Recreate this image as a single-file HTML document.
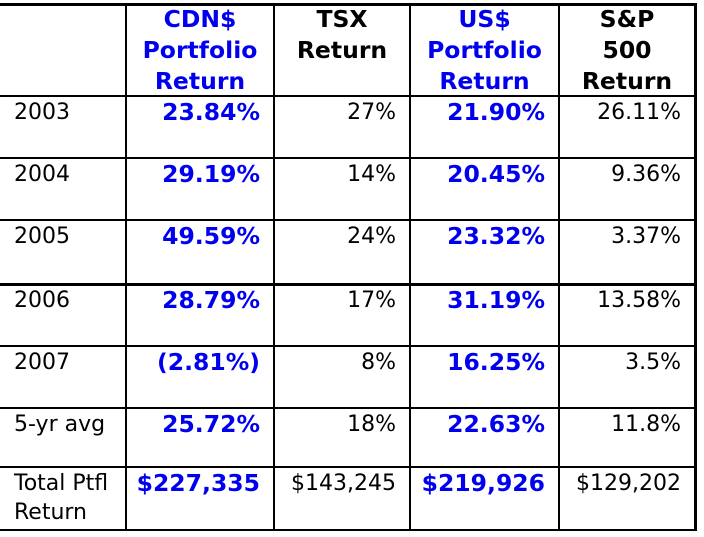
<!DOCTYPE html>
<html><head><meta charset="utf-8"><style>
html,body{margin:0;padding:0;background:#fff;width:704px;height:537px;overflow:hidden}
#t{position:relative;width:704px;height:537px;font-family:"DejaVu Sans","Liberation Sans",sans-serif}
.c{position:absolute;box-sizing:border-box;font-size:22px;color:#000;white-space:nowrap}
.b{font-weight:bold;font-size:23.5px}.blue{color:#0000ee}
.line{position:absolute;background:#000}
</style></head><body>
<div id="t"></div>
<script>
const years = ["2003","2004","2005","2006","2007","5-yr avg","Total Ptfl<br>Return"];
const cdnReturns = ["23.84%","29.19%","49.59%","28.79%","(2.81%)","25.72%","$227,335"];
const tsxReturns = ["27%","14%","24%","17%","8%","18%","$143,245"];
const usReturns = ["21.90%","20.45%","23.32%","31.19%","16.25%","22.63%","$219,926"];
const spReturns = ["26.11%","9.36%","3.37%","13.58%","3.5%","11.8%","$129,202"];
const headers = ["","CDN$<br>Portfolio<br>Return","TSX<br>Return","US$<br>Portfolio<br>Return","S&amp;P<br>500<br>Return"];

const colX=[0,126,274,410,559,695];
const rowY=[4,96,158,220,284,346,408,467,530];
const t=document.getElementById('t');
function line(x,y,w,h,name){const d=document.createElement('div');d.className='line';
d.style.cssText=`left:${x}px;top:${y}px;width:${w}px;height:${h}px`;


t.appendChild(d);}
line(0,3,697,3,'table-top-border');
line(0,529,697,2,'table-bottom-border');
line(694,3,3,528,'table-right-border');
for(let i=1;i<5;i++) line(colX[i]-1,3,2,528,'column-divider');
for(let r=1;r<8;r++) line(0,rowY[r]-1,695,r===4?3:2,'row-divider');
headers.forEach((h,i)=>{const d=document.createElement('div');d.className='c b'+((i===1||i===3)?' blue':'');
d.style.cssText=`left:${colX[i]}px;top:4px;width:${colX[i+1]-colX[i]}px;text-align:center;line-height:31px`;
d.innerHTML=h;


t.appendChild(d);});
const cols=[cdnReturns,tsxReturns,usReturns,spReturns];
years.forEach((y,r)=>{
 const top=rowY[r+1]+2;
 const d=document.createElement('div');d.className='c';
 d.style.cssText=`left:14px;top:${top}px;line-height:29px`;d.innerHTML=y;
 
 
 t.appendChild(d);
 cols.forEach((arr,c)=>{const e=document.createElement('div');
  e.className='c'+((c===0||c===2)?' b blue':'');
  e.style.cssText=`left:${colX[c+1]}px;top:${top}px;width:${colX[c+2]-colX[c+1]-14}px;text-align:right;line-height:29px`;
  e.textContent=arr[r];
  
  
  t.appendChild(e);});
});
</script>
</body></html>
